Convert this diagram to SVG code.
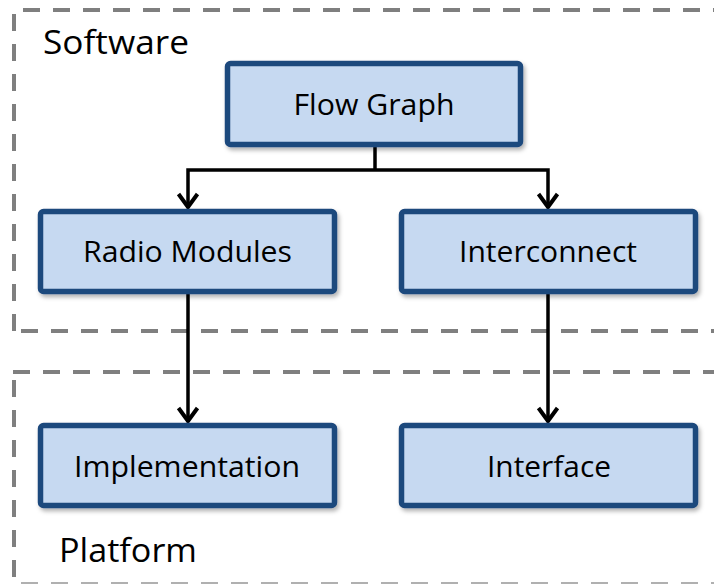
<svg xmlns="http://www.w3.org/2000/svg" width="714" height="584" viewBox="0 0 714 584">
  <style>
    .zone { fill: none; stroke: #7f7f7f; stroke-width: 4; stroke-dasharray: 17 13; }
    .node rect { fill: #c6d9f1; stroke: #1f497d; stroke-width: 5.5; filter: url(#shadow); }
    .node text { font-family: "Open Sans", "Liberation Sans", sans-serif; font-size: 30px; fill: #000; text-anchor: middle; }
    .zlabel { font-family: "Open Sans", "Liberation Sans", sans-serif; font-size: 33px; fill: #000; }
    .link { fill: none; stroke: #000; stroke-width: 3.5; }
  </style>
  <defs>
    <filter id="shadow" x="-10%" y="-20%" width="130%" height="150%">
      <feDropShadow dx="2" dy="3" stdDeviation="2" flood-color="#000" flood-opacity="0.3"/>
    </filter>
    <marker id="arrow" markerUnits="userSpaceOnUse" markerWidth="40" markerHeight="40" viewBox="-20 -20 40 40" refX="0" refY="0" orient="auto" overflow="visible">
      <path d="M -14 -9.5 L -1 0 L -14 9.5" fill="none" stroke="#000" stroke-width="4" stroke-linejoin="miter"/>
    </marker>
  </defs>

  <rect width="714" height="584" fill="#fff"/>

  <!-- Software zone -->
  <g id="zone-software">
    <line class="zone" x1="23" y1="10" x2="714" y2="10"/>
    <line class="zone" x1="14" y1="14" x2="14" y2="331"/>
    <line class="zone" x1="21" y1="331" x2="714" y2="331"/>
    <text class="zlabel" x="43" y="54" textLength="146" lengthAdjust="spacingAndGlyphs">Software</text>
  </g>

  <!-- Platform zone -->
  <g id="zone-platform">
    <line class="zone" x1="13" y1="372" x2="714" y2="372"/>
    <line class="zone" x1="14" y1="380" x2="14" y2="584"/>
    <line class="zone" x1="21" y1="584" x2="714" y2="584" style="stroke:#b0b0b0"/>
    <text class="zlabel" x="59" y="562" textLength="138" lengthAdjust="spacingAndGlyphs">Platform</text>
  </g>

  <!-- Connectors -->
  <g id="connectors">
    <path class="link" d="M 375 147 V 170"/>
    <path class="link" d="M 375 170 H 188 V 208" marker-end="url(#arrow)"/>
    <path class="link" d="M 375 170 H 548 V 208" marker-end="url(#arrow)"/>
    <path class="link" d="M 188 294 V 422" marker-end="url(#arrow)"/>
    <path class="link" d="M 548 294 V 422" marker-end="url(#arrow)"/>
  </g>

  <!-- Nodes -->
  <g id="node-flow-graph" class="node">
    <rect x="227.5" y="63.5" width="293" height="81" rx="3"/>
    <text x="374" y="115" textLength="161" lengthAdjust="spacingAndGlyphs">Flow Graph</text>
  </g>
  <g id="node-radio-modules" class="node">
    <rect x="40.5" y="211.5" width="294" height="80" rx="3"/>
    <text x="187.5" y="262" textLength="209" lengthAdjust="spacingAndGlyphs">Radio Modules</text>
  </g>
  <g id="node-interconnect" class="node">
    <rect x="401.5" y="211.5" width="294" height="80" rx="3"/>
    <text x="548" y="262" textLength="178" lengthAdjust="spacingAndGlyphs">Interconnect</text>
  </g>
  <g id="node-implementation" class="node">
    <rect x="40.5" y="425.5" width="294" height="80" rx="3"/>
    <text x="187" y="477" textLength="226" lengthAdjust="spacingAndGlyphs">Implementation</text>
  </g>
  <g id="node-interface" class="node">
    <rect x="401.5" y="425.5" width="294" height="80" rx="3"/>
    <text x="549" y="477" textLength="124" lengthAdjust="spacingAndGlyphs">Interface</text>
  </g>
</svg>
